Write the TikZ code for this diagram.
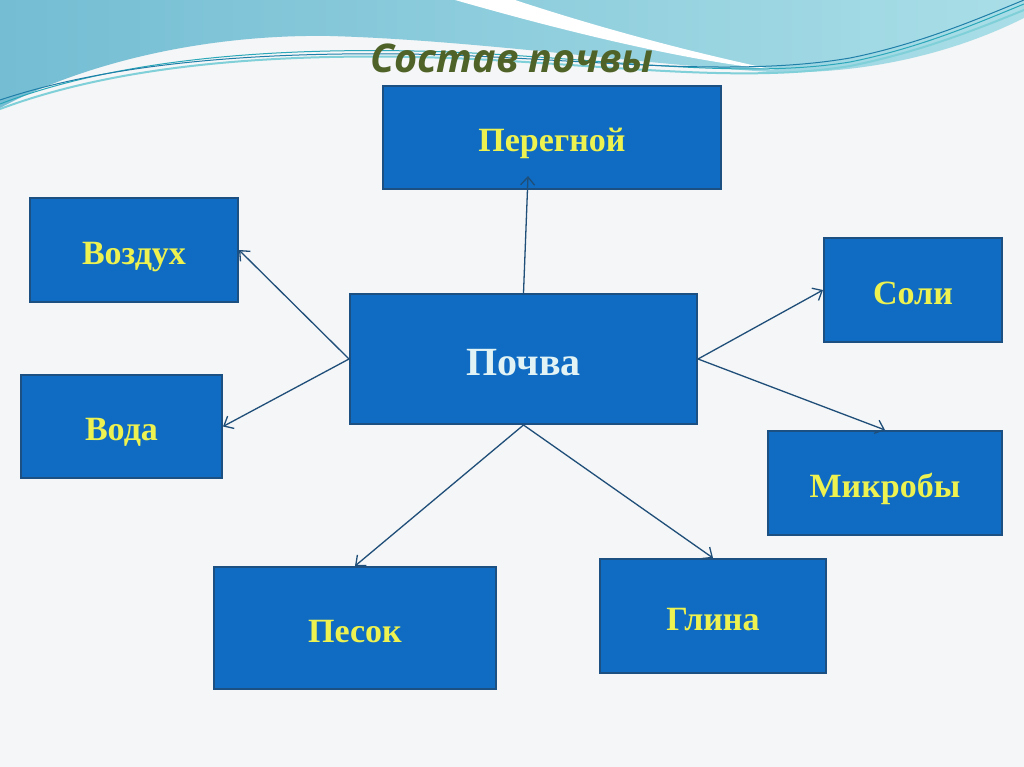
\documentclass[tikz,border=0pt]{standalone}
\usepackage{fontspec}
\setmainfont{Liberation Serif}
\newfontfamily\titlefont{Open Sans}
\usetikzlibrary{arrows.meta}
\definecolor{bgc}{HTML}{F4F6F7}
\definecolor{boxfill}{HTML}{0F6CC2}
\definecolor{boxline}{HTML}{1C4F82}
\definecolor{arrc}{HTML}{1F4E79}
\definecolor{ytext}{HTML}{EEF250}
\definecolor{ctext}{HTML}{E2F3F5}
\definecolor{titlec}{HTML}{4F6228}
\definecolor{bandL}{HTML}{74BDD3}
\definecolor{bandR}{HTML}{A9DEE7}
\definecolor{wlineA}{HTML}{2AA7B8}
\definecolor{wlineB}{HTML}{1F7FA8}
\definecolor{wlineC}{HTML}{7FD0D8}
\tikzset{
  box/.style={draw=boxline, line width=2pt, fill=boxfill, rectangle, inner sep=0pt,
    font=\fontsize{34}{40}\selectfont\bfseries, text=ytext,
    text height=31pt, text depth=3pt},
  arr/.style={draw=arrc, line width=1.3pt, -{Straight Barb[length=8pt,width=14pt]}},
  wline/.style={line width=1pt}
}
\begin{document}
\begin{tikzpicture}[x=1pt,y=-1pt]
\useasboundingbox (0,0) rectangle (1024,767);
\fill[bgc] (0,0) rectangle (1024,767);
% top band
\shade[left color=bandL, right color=bandR]
  (0,0) -- (1024,0) -- (1024,18) .. controls (950,55) and (860,75) .. (770,72)
  .. controls (620,62) and (470,40) .. (330,36) .. controls (200,34) and (80,65) .. (0,108) -- cycle;
% white streak
\fill[white] (455,0) -- (515,0) .. controls (600,28) and (690,52) .. (775,70)
  .. controls (680,60) and (560,30) .. (455,0) -- cycle;
% lines
\draw[wline, wlineA] (0,104) .. controls (120,58) and (280,46) .. (450,52) .. controls (600,58) and (740,80) .. (850,62) .. controls (920,48) and (980,22) .. (1024,4);
\draw[wline, wlineB] (0,100) .. controls (120,60) and (280,50) .. (450,55) .. controls (600,61) and (740,77) .. (850,58) .. controls (920,44) and (980,18) .. (1024,0);
\draw[wline, wlineC, line width=2pt] (0,109) .. controls (120,64) and (280,52) .. (450,58) .. controls (600,64) and (740,84) .. (850,66) .. controls (920,52) and (980,28) .. (1024,10);
% title
\node (title) at (512,58) {\titlefont\bfseries\itshape\fontsize{39.5}{44}\selectfont\color{titlec}Состав почвы};
% boxes
\node[box, minimum width=338pt, minimum height=103pt] (peregnoj) at (552,137.5) {Перегной};
\node[box, minimum width=208pt, minimum height=104pt] (vozduh) at (134,250) {Воздух};
\node[box, minimum width=347pt, minimum height=130pt, text=ctext, font=\fontsize{40}{46}\selectfont\bfseries, text height=36pt, text depth=4pt] (pochva) at (523.5,359) {Почва};
\node[box, minimum width=178pt, minimum height=104pt] (soli) at (913,290) {Соли};
\node[box, minimum width=201pt, minimum height=103pt] (voda) at (121.5,426.5) {Вода};
\node[box, minimum width=234pt, minimum height=104pt] (mikroby) at (885,483) {Микробы};
\node[box, minimum width=282pt, minimum height=122pt] (pesok) at (355,628) {Песок};
\node[box, minimum width=226pt, minimum height=114pt] (glina) at (713,616) {Глина};
% arrows
\coordinate (pertip) at (528,176);
\draw[arr] (pochva.north) -- (pertip);
\draw[arr] (pochva.west) -- (vozduh.east);
\draw[arr] (pochva.west) -- (voda.east);
\draw[arr] (pochva.east) -- (soli.west);
\draw[arr] (pochva.east) -- (mikroby.north);
\draw[arr] (pochva.south) -- (pesok.north);
\draw[arr] (pochva.south) -- (glina.north);
\end{tikzpicture}
\end{document}
